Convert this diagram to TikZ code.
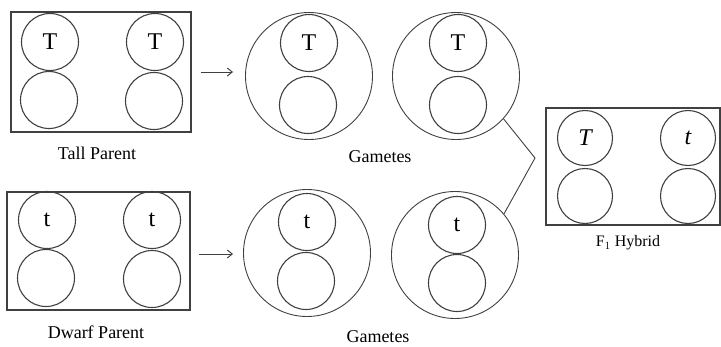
\documentclass[tikz,border=0pt]{standalone}
\usepackage{fontspec}
\setmainfont{Liberation Serif}
\usetikzlibrary{arrows.meta}
\begin{document}
\begin{tikzpicture}[x=1pt,y=-1pt,
  line width=1.1pt,
  ink/.style={draw=black!75},
  chrom/.style={ink, circle, minimum size=57pt, inner sep=0pt, font=\fontsize{24}{24}\selectfont},
  cell/.style={ink, circle, minimum size=127pt, inner sep=0pt, line width=0.9pt},
  pbox/.style={ink, rectangle, inner sep=0pt},
  lbl/.style={font=\fontsize{18}{18}\selectfont, inner sep=0pt},
  arr/.style={ink, -{Straight Barb[length=5pt,width=8pt]}, line width=1pt}
]
\useasboundingbox (0,0) rectangle (721,346);
% Tall parent
\node[pbox, minimum width=180pt, minimum height=120pt] (tallbox) at (101,72) {};
\node[chrom] (tp1) at (50,42) {T};
\node[chrom] (tp2) at (49,100) {};
\node[chrom] (tp3) at (155,42) {T};
\node[chrom] (tp4) at (154,101) {};
\node[lbl] (tallL) at (97,153) {Tall Parent};
% Dwarf parent
\node[pbox, minimum width=183pt, minimum height=118pt] (dwbox) at (98.5,251) {};
\node[chrom] (dp1) at (47,220) {t};
\node[chrom] (dp2) at (46,278) {};
\node[chrom] (dp3) at (152,220) {t};
\node[chrom] (dp4) at (152,279) {};
\node[lbl] (dwL) at (96,332) {Dwarf Parent};
% Gametes top
\node[cell] (g1) at (309,76) {};
\node[chrom] (g1a) at (309,43) {T};
\node[chrom] (g1b) at (308,105) {};
\node[cell] (g2) at (456,76) {};
\node[chrom] (g2a) at (458,43) {T};
\node[chrom] (g2b) at (458,105) {};
\node[lbl] (gL1) at (380,157) {Gametes};
% Gametes bottom
\node[cell] (g3) at (307,253) {};
\node[chrom] (g3a) at (307,222) {t};
\node[chrom] (g3b) at (306,281) {};
\node[cell] (g4) at (455,255) {};
\node[chrom] (g4a) at (457,225) {t};
\node[chrom] (g4b) at (457,283) {};
\node[lbl] (gL2) at (378,337) {Gametes};
% Hybrid
\node[pbox, minimum width=174pt, minimum height=117pt] (hyb) at (633,166.5) {};
\node[chrom, minimum size=55pt] (h1) at (585,138) {\itshape T};
\node[chrom, minimum size=55pt] (h2) at (585,196) {};
\node[chrom, minimum size=55pt] (h3) at (688,138) {\itshape t};
\node[chrom, minimum size=55pt] (h4) at (688,196) {};
\node[lbl, font=\fontsize{16}{16}\selectfont] (hL) at (628,243) {F$_1$ Hybrid};
% connectors
\draw[arr] ([xshift=9pt]tallbox.east) -- ([xshift=-12pt]tallbox.east -| g1.west);
\draw[arr] ([xshift=8pt,yshift=-3pt]dwbox.east) -- ([xshift=-10pt,yshift=-3pt]dwbox.east -| g3.west);
\coordinate (v) at (535,158);
\draw[ink, line width=0.9pt] (g2.-42) -- (v) -- (g4.40);
\end{tikzpicture}
\end{document}
